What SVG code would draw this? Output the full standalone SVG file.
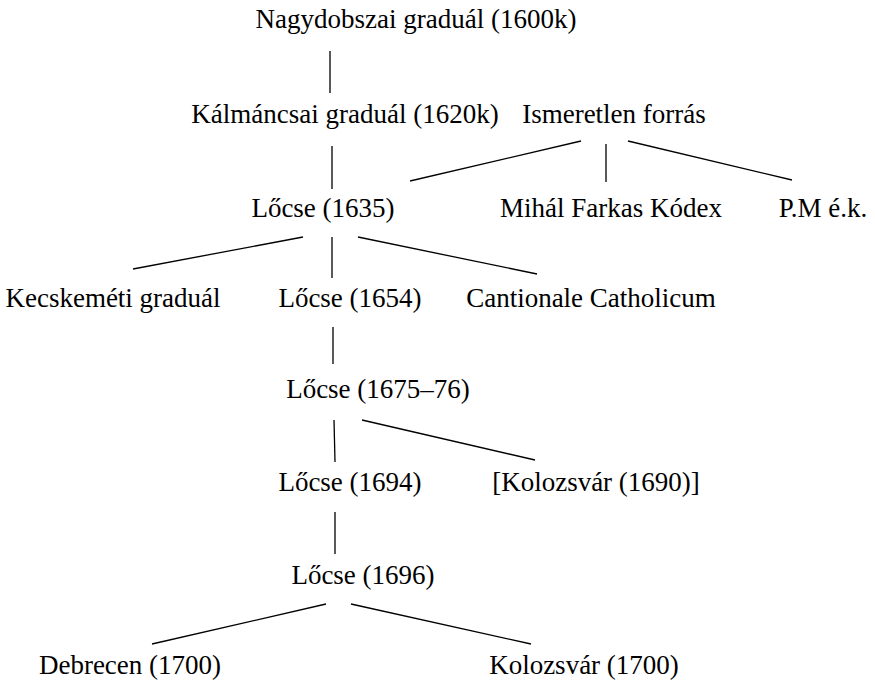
<svg xmlns="http://www.w3.org/2000/svg" width="875" height="680" viewBox="0 0 875 680">
<style>
.t text{font-size:27px;fill:#000;text-anchor:middle}
.c line{stroke:#000;stroke-width:1.3;fill:none}
</style>
<rect width="875" height="680" fill="#fff"/>
<g class="c" id="connectors">
<line x1="330" y1="51" x2="330" y2="93"/>
<line x1="332" y1="146" x2="332" y2="189"/>
<line x1="581" y1="141" x2="410" y2="181"/>
<line x1="606" y1="144" x2="606" y2="182"/>
<line x1="628" y1="141" x2="792" y2="180"/>
<line x1="303" y1="237" x2="133" y2="269"/>
<line x1="332" y1="237" x2="332" y2="278"/>
<line x1="358" y1="237" x2="537" y2="274"/>
<line x1="333" y1="327" x2="333" y2="364"/>
<line x1="334" y1="420" x2="335" y2="462"/>
<line x1="362" y1="420" x2="535" y2="460"/>
<line x1="335" y1="512" x2="335" y2="554"/>
<line x1="326" y1="604" x2="152" y2="644"/>
<line x1="351" y1="604" x2="531" y2="644"/>
</g>
<g class="t" font-family="'Liberation Serif', 'Times New Roman', 'DejaVu Serif', serif">
<g id="n1"><text x="416" y="28">Nagydobszai graduál (1600k)</text></g>
<g id="n2"><text x="345" y="123">Kálmáncsai graduál (1620k)</text></g>
<g id="n3"><text x="614" y="123">Ismeretlen forrás</text></g>
<g id="n4"><text x="323" y="217">Lőcse (1635)</text></g>
<g id="n5"><text x="611" y="217">Mihál Farkas Kódex</text></g>
<g id="n6"><text x="823" y="217">P.M é.k.</text></g>
<g id="n7"><text x="113" y="307">Kecskeméti graduál</text></g>
<g id="n8"><text x="350" y="307">Lőcse (1654)</text></g>
<g id="n9"><text x="591" y="307">Cantionale Catholicum</text></g>
<g id="n10"><text x="378" y="398">Lőcse (1675–76)</text></g>
<g id="n11"><text x="350" y="491">Lőcse (1694)</text></g>
<g id="n12"><text x="596" y="491">[Kolozsvár (1690)]</text></g>
<g id="n13"><text x="363" y="584">Lőcse (1696)</text></g>
<g id="n14"><text x="130" y="674">Debrecen (1700)</text></g>
<g id="n15"><text x="584" y="674">Kolozsvár (1700)</text></g>
</g>
</svg>
